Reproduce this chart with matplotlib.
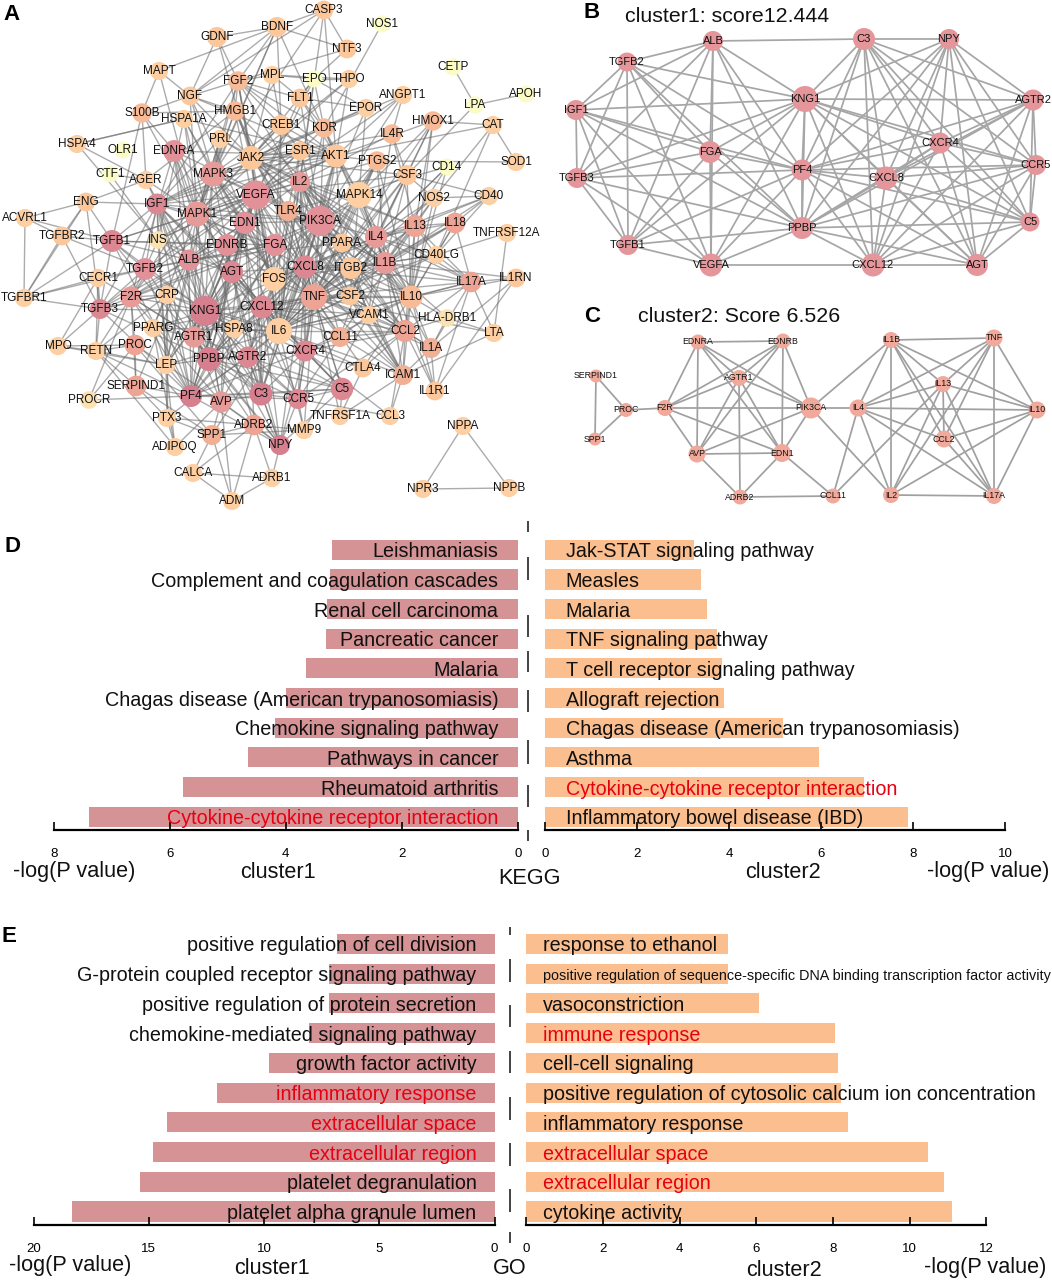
#!/usr/bin/env python3
# -*- coding: utf-8 -*-
from itertools import combinations

import matplotlib
matplotlib.use('Agg')
import matplotlib.pyplot as plt
from matplotlib.collections import LineCollection
from matplotlib.colors import LinearSegmentedColormap

plt.rcParams['font.family'] = ['Liberation Sans', 'DejaVu Sans']

W, H = 1052, 1280

# panel A: PPI network, node place in picture pixels, score = degree class 0-10
a_names = ['GDNF', 'BDNF', 'CASP3', 'NOS1', 'NTF3', 'MAPT', 'FGF2', 'MPL', 'NGF', 'EPO', 'THPO', 'FLT1',
           'ANGPT1', 'EPOR', 'CETP', 'LPA', 'APOH', 'S100B', 'HSPA1A', 'HMGB1', 'CREB1', 'KDR', 'HMOX1',
           'CAT', 'IL4R', 'PRL', 'HSPA4', 'OLR1', 'EDNRA', 'JAK2', 'ESR1', 'AKT1', 'PTGS2', 'SOD1', 'CD14',
           'CTF1', 'AGER', 'MAPK3', 'IL2', 'CSF3', 'VEGFA', 'ENG', 'IGF1', 'MAPK1', 'NOS2', 'MAPK14', 'CD40',
           'EDN1', 'TLR4', 'PIK3CA', 'ACVRL1', 'IL13', 'IL18', 'TNFRSF12A', 'IL4', 'PPARA', 'TGFBR2', 'TGFB1',
           'INS', 'EDNRB', 'FGA', 'CD40LG', 'ALB', 'AGT', 'FOS', 'TGFB2', 'CECR1', 'TGFBR1', 'F2R', 'CRP',
           'TGFB3', 'KNG1', 'CXCL12', 'PPARG', 'HSPA8', 'AGTR1', 'IL6', 'MPO', 'RETN', 'PROC', 'LEP', 'PPBP',
           'AGTR2', 'SERPIND1', 'PF4', 'AVP', 'C3', 'PROCR', 'PTX3', 'ADRB2', 'SPP1', 'ADIPOQ', 'NPY', 'CALCA',
           'ADRB1', 'ADM', 'CXCL8', 'ITGB2', 'IL1B', 'IL17A', 'IL1RN', 'TNF', 'CSF2', 'IL10', 'VCAM1',
           'HLA-DRB1', 'CCL2', 'LTA', 'CCL11', 'IL1A', 'CXCR4', 'CTLA4', 'ICAM1', 'IL1R1', 'C5', 'CCR5',
           'TNFRSF1A', 'CCL3', 'MMP9', 'NPPA', 'NPR3', 'NPPB']
a_x = [217, 277, 324, 382, 347, 159, 238, 272, 190, 314, 349, 300,
       403, 366, 453, 475, 526, 142, 184, 235, 281, 324, 433,
       493, 392, 220, 77, 123, 174, 251, 300, 336, 377, 516, 447,
       110, 146, 213, 300, 407, 256, 86, 157, 197, 434, 359, 489,
       245, 288, 320, 25, 415, 455, 507, 376, 342, 62, 112,
       158, 227, 275, 436, 189, 232, 274, 145, 98, 24, 131, 167,
       100, 205, 262, 153, 234, 194, 279, 58, 96, 135, 166, 209,
       248, 136, 191, 221, 261, 89, 167, 254, 212, 175, 280, 193,
       272, 232, 305, 351, 385, 471, 516, 314, 350, 411, 369,
       447, 405, 494, 340, 431, 305, 363, 403, 435, 342, 298,
       340, 390, 304, 463, 423, 509]
a_y = [37, 27, 10, 24, 49, 71, 81, 75, 96, 79, 79, 98,
       95, 108, 67, 105, 94, 113, 119, 111, 125, 128, 121,
       125, 134, 139, 144, 150, 151, 158, 151, 156, 161, 162, 167,
       174, 180, 174, 182, 175, 195, 202, 204, 214, 198, 195, 196,
       223, 211, 221, 218, 226, 223, 233, 237, 243, 236, 241,
       240, 245, 245, 255, 260, 272, 279, 269, 278, 298, 297, 295,
       309, 311, 307, 328, 329, 337, 331, 346, 351, 345, 365, 359,
       357, 386, 396, 402, 394, 400, 418, 425, 435, 447, 445, 473,
       478, 501, 267, 268, 263, 282, 278, 297, 296, 297, 315,
       318, 331, 333, 337, 348, 351, 368, 375, 391, 389, 399,
       416, 416, 430, 426, 489, 488]
a_score = [3, 3, 3, 0, 3, 2, 4, 2, 3, 0, 2, 3,
           2, 2, 0, 0, 0, 4, 2, 4, 3, 4, 4,
           2, 4, 2, 2, 0, 8, 3, 3, 3, 4, 2, 0,
           0, 2, 7, 7, 3, 8, 3, 9, 7, 2, 2, 2,
           8, 5, 8, 2, 6, 6, 2, 7, 3, 3, 9,
           1, 8, 8, 2, 8, 9, 2, 8, 2, 2, 7, 2,
           9, 10, 9, 2, 2, 7, 2, 2, 2, 6, 2, 10,
           9, 6, 10, 7, 10, 1, 2, 6, 5, 2, 10, 2,
           2, 2, 9, 3, 7, 6, 3, 6, 3, 4, 2,
           1, 6, 2, 5, 5, 9, 3, 5, 3, 9, 9,
           2, 2, 2, 2, 2, 2]
# the big circles, in pixels; the others follow the score
a_big = {'KNG1': 15, 'PIK3CA': 15, 'VEGFA': 14.5, 'MAPK3': 12.5, 'MAPK1': 12.5, 'AGT': 11, 'PPBP': 12, 'C3': 11.5,
         'PF4': 11, 'CXCL8': 11.5, 'CXCL12': 11.5, 'CXCR4': 10.5, 'CCR5': 10, 'AGTR2': 10.5, 'ALB': 10.5, 'NPY': 10,
         'TNF': 13, 'IL6': 13, 'FOS': 12, 'JAK2': 12, 'MAPK14': 13, 'IL10': 11.5, 'IL4': 11, 'IL13': 11, 'IL1B': 11,
         'EDN1': 11, 'FGA': 11, 'IL2': 10, 'TGFB3': 10, 'TGFB1': 11, 'IGF1': 10.5, 'CCL2': 11, 'CSF3': 10,
         'CREB1': 10, 'AKT1': 11.5, 'ITGB2': 11, 'GDNF': 10, 'BDNF': 10}
a_links = {
    'GDNF': 'BDNF NGF JAK2 FGF2',
    'BDNF': 'CASP3 NTF3 NGF FGF2 AKT1 CREB1 MAPK1 MAPK3 MAPT',
    'CASP3': 'NTF3 AKT1 MAPK3 NGF IL2',
    'NTF3': 'FGF2 EPO',
    'NOS1': 'KDR',
    'MAPT': 'S100B MAPK1 NGF',
    'FGF2': 'NGF MPL FLT1 KDR VEGFA MAPK1 MAPK3 AKT1 IGF1 CREB1 HMGB1 JAK2 FOS PIK3CA',
    'MPL': 'EPO THPO JAK2 CREB1 FLT1',
    'NGF': 'MAPK1 MAPK3 AKT1 S100B JAK2 HMGB1 FOS',
    'EPO': 'THPO EPOR JAK2 VEGFA KDR FLT1 IL6',
    'THPO': 'MAPK1 JAK2 AKT1',
    'FLT1': 'VEGFA KDR PIK3CA AKT1 EPOR',
    'ANGPT1': 'KDR PIK3CA AKT1 VEGFA',
    'EPOR': 'KDR JAK2 PIK3CA MAPK14',
    'CETP': 'LPA',
    'LPA': 'APOH CSF3',
    'S100B': 'HMGB1 AGER MAPK1 EDNRA TGFB1',
    'HSPA1A': 'HSPA4 MAPK1 MAPK3 AKT1 INS FOS HSPA8',
    'HMGB1': 'TLR4 MAPK1 MAPK3 IL6 TNF AGER IL1B CXCL8',
    'CREB1': 'MAPK1 MAPK3 AKT1 FOS JAK2 IL6 ESR1',
    'KDR': 'VEGFA PIK3CA AKT1 MAPK14 IL6 JAK2 IGF1',
    'HMOX1': 'CAT MAPK14 CSF3 IL4 IL13 IL10 TNF AKT1',
    'CAT': 'SOD1 NOS2 AKT1 CD40LG',
    'IL4R': 'IL4 IL13 JAK2 IL2 CSF3 ANGPT1',
    'PRL': 'JAK2 MAPK1 MAPK3 IL2 IGF1 LEP',
    'HSPA4': 'AGER INS HSPA1A',
    'EDNRA': 'EDN1 EDNRB AGTR1 F2R AVP PIK3CA MAPK1 AKT1 ADRB2',
    'JAK2': 'MAPK1 MAPK3 VEGFA IL2 IL6 IL4 PIK3CA CSF2 CSF3 AKT1 IL13 IL10',
    'ESR1': 'MAPK1 MAPK3 AKT1 VEGFA IGF1 IL6 FOS PIK3CA',
    'AKT1': 'MAPK1 MAPK3 VEGFA PIK3CA IGF1 INS TNF IL6 IL4 MAPK14 IL1B CXCL8 PPARA',
    'PTGS2': 'SOD1 MAPK14 IL1B IL6 TNF VEGFA CXCL8 PPARA PIK3CA AKT1 IL10',
    'CD14': 'TLR4 IL10 IL1B TNF IL6',
    'CTF1': 'INS AGER',
    'AGER': 'ENG ALB MAPK1 IGF1',
    'MAPK3': 'MAPK1 VEGFA IGF1 FOS TNF IL6 EDN1 AGT PIK3CA CXCL8 KNG1 AGTR1 F2R',
    'IL2': 'IL4 IL10 IL13 IL6 TNF CCL2 VEGFA CSF2 CXCL8 IL1B PIK3CA IL17A CXCR4 ICAM1 CCL11 EDN1',
    'CSF3': 'IL6 IL4 CSF2 IL1B NOS2 CD40 PIK3CA TNF IL10 VEGFA',
    'VEGFA': 'EDN1 IGF1 MAPK1 PIK3CA FGA ALB AGT KNG1 PPBP PF4 CXCL8 TGFB1 TGFB2 TGFB3 CXCL12 IL6 TNF FOS C3 AGTR1 IL1B LEP CCL2 INS',
    'ENG': 'TGFBR2 TGFB1 IGF1 TGFBR1 TGFB3 ACVRL1',
    'IGF1': 'MAPK1 INS ALB TGFB1 TGFB2 TGFB3 FGA KNG1 PPBP PF4 AGT PIK3CA IL6 AGTR1 LEP CXCL12',
    'MAPK1': 'EDN1 PIK3CA TGFB1 INS ALB FOS AGT TNF IL6 KNG1 CXCL8 CXCL12 F2R AGTR1 PPARG',
    'NOS2': 'CD40 IL1B IL13 IL4 TNF IL10',
    'MAPK14': 'PIK3CA IL4 IL1B TNF IL6 IL10 CSF2 CXCL8',
    'CD40': 'CD40LG IL13 IL18 IL4 IL1B',
    'EDN1': 'EDNRB AGTR1 F2R AVP AGT KNG1 PIK3CA ALB PF4 PPBP ADRB2 CCL11 FOS C3 FGA',
    'TLR4': 'PIK3CA TNF IL6 IL1B CXCL8 IL10 ITGB2 ICAM1',
    'PIK3CA': 'IL4 F2R IL1B IL2 CXCL8 CXCL12 CXCR4 AGTR1 AVP KNG1 FGA TNF IL6 ITGB2 CSF2 CCL2 C3 PPBP',
    'ACVRL1': 'TGFB1 TGFBR1 TGFBR2',
    'IL13': 'IL4 IL18 IL10 IL1B CCL2 TNF IL17A CD40LG CCL11 IL6',
    'IL18': 'IL1B IL4 IL10 TNF CD40LG IL17A IL6',
    'TNFRSF12A': 'CD40LG LTA',
    'IL4': 'IL10 IL1B CCL2 IL6 TNF CCL11 IL17A ITGB2 CD40LG VCAM1 CSF2 CXCL8',
    'PPARA': 'IL6 TNF PIK3CA FOS ALB',
    'TGFBR2': 'TGFB1 TGFBR1 TGFB2 TGFB3',
    'TGFB1': 'TGFB2 TGFB3 TGFBR1 ALB FGA KNG1 PPBP PF4 EDNRB',
    'INS': 'ALB KNG1 LEP AGT TGFB2',
    'EDNRB': 'AGTR1 F2R AVP KNG1 ALB AGT',
    'FGA': 'ALB KNG1 PPBP PF4 TGFB2 TGFB3 AGT C3',
    'CD40LG': 'IL1B IL10 IL17A IL6 TNF ITGB2',
    'ALB': 'TGFB2 TGFB3 KNG1 PPBP PF4 C3 AGT CRP LEP SERPIND1',
    'AGT': 'KNG1 AGTR1 AGTR2 C3 C5 CXCL8 CXCL12 CXCR4 CCR5 NPY PPBP PF4 IL6 TNF LEP',
    'FOS': 'IL6 TNF IL1B IL2 IL4 CXCL8 AGTR2',
    'TGFB2': 'TGFB3 TGFBR1 KNG1 PPBP PF4 CECR1 F2R',
    'CECR1': 'TGFB3 TGFBR1 F2R RETN MPO',
    'TGFBR1': 'TGFB3',
    'F2R': 'AGTR1 AVP PROC KNG1 SERPIND1 PROCR PF4 CRP RETN',
    'CRP': 'IL6 KNG1 LEP RETN PTX3 TGFB3 PF4 C3',
    'TGFB3': 'KNG1 PPBP PF4 RETN MPO CRP',
    'KNG1': 'PPBP PF4 C3 C5 AGTR1 AGTR2 CXCL8 CXCL12 CXCR4 CCR5 NPY HSPA8 AVP IL6 TNF LEP',
    'CXCL12': 'CXCL8 CXCR4 CCR5 PPBP PF4 C3 C5 AGTR2 NPY IL6 TNF CSF2 CCL2 CCL11 AGTR1 VCAM1',
    'PPARG': 'LEP IL6 TNF ADIPOQ KNG1 CRP AGTR1',
    'HSPA8': 'IL6 TNF PPBP',
    'AGTR1': 'AVP F2R PF4 C3 ADRB2 AGTR2 NPY PPBP CXCL8',
    'IL6': 'TNF IL1B IL10 CXCL8 CCL2 ICAM1 CSF2 LEP IL17A VCAM1 PTX3 SPP1 C3 AGTR2 CXCR4 MMP9 CTLA4',
    'MPO': 'RETN LEP PROC',
    'RETN': 'LEP PF4 SERPIND1 ADIPOQ PROC',
    'PROC': 'PROCR SERPIND1 LEP SPP1',
    'LEP': 'ADIPOQ PTX3 PF4 PPBP AVP',
    'PPBP': 'PF4 C3 C5 AGTR2 CXCL8 CXCR4 CCR5 NPY',
    'AGTR2': 'PF4 C3 C5 CXCL8 CXCR4 CCR5 NPY',
    'SERPIND1': 'SPP1 PF4 PTX3',
    'PF4': 'C3 C5 CXCL8 CXCR4 CCR5 NPY PROCR',
    'AVP': 'ADRB2 ADIPOQ SPP1 NPY C3 ADM',
    'C3': 'C5 CXCL8 CXCR4 CCR5 NPY',
    'PTX3': 'ADRB2 SPP1 ADIPOQ',
    'ADRB2': 'NPY CALCA ADM MMP9 ADRB1 SPP1',
    'SPP1': 'CALCA ADM MMP9',
    'NPY': 'C5 CXCL8 CXCR4 CCR5 ADRB1',
    'CALCA': 'ADRB1 ADM',
    'ADRB1': 'ADM',
    'CXCL8': 'C5 CXCR4 CCR5 TNF IL1B IL10 CCL2 CSF2 ITGB2 ICAM1 IL17A IL13',
    'ITGB2': 'ICAM1 TNF IL1B VCAM1 IL10 CCL2',
    'IL1B': 'TNF IL10 IL17A IL1RN IL1R1 IL1A CCL2 ICAM1 VCAM1 CSF2 HLA-DRB1',
    'IL17A': 'TNF IL10 CCL2 LTA IL1RN IL1A IL1R1',
    'IL1RN': 'IL10 IL1A IL1R1',
    'TNF': 'IL10 CCL2 ICAM1 VCAM1 CSF2 CTLA4 IL1A LTA CXCR4 CCR5 TNFRSF1A MMP9 C5 CCL11',
    'CSF2': 'IL10 CCL2 VCAM1 ICAM1 IL1A',
    'IL10': 'CCL2 ICAM1 HLA-DRB1 IL1A CTLA4 CXCR4 VCAM1 IL1R1',
    'VCAM1': 'ICAM1 CCL2 CCL11 MMP9',
    'HLA-DRB1': 'IL1A LTA CCL2',
    'CCL2': 'IL1A ICAM1 CCL11 CCR5 CXCR4 IL1R1 CCL3 CTLA4',
    'LTA': 'ICAM1',
    'CCL11': 'CXCR4 CCR5 ICAM1',
    'IL1A': 'ICAM1 IL1R1',
    'CXCR4': 'C5 CCR5 CCL3 CTLA4',
    'CTLA4': 'TNFRSF1A',
    'ICAM1': 'TNFRSF1A CCL3',
    'C5': 'CCR5 TNFRSF1A',
    'CCR5': 'CCL3 MMP9',
    'NPPA': 'NPR3 NPPB',
    'NPR3': 'NPPB',
}

# panel B
b_names = ['ALB', 'C3', 'NPY', 'TGFB2', 'IGF1', 'KNG1', 'AGTR2', 'FGA', 'CXCR4', 'CCR5', 'PF4', 'CXCL8',
           'TGFB3', 'C5', 'PPBP', 'TGFB1', 'VEGFA', 'CXCL12', 'AGT']
b_x = [713, 864, 949, 627, 576, 805, 1033, 710, 940, 1036, 802, 886, 577, 1030, 802, 628, 711, 873, 977]
b_y = [41, 39, 39, 62, 110, 99, 100, 152, 143, 165, 170, 178, 178, 222, 228, 245, 265, 265, 265]
b_radius = [10, 11, 10, 9.5, 10, 13, 10.5, 11, 10.5, 10, 10.5, 11.5, 10, 9.5, 11, 10, 11.5, 11.5, 11]
b_left = ['ALB', 'TGFB2', 'IGF1', 'TGFB3', 'TGFB1', 'VEGFA', 'FGA', 'KNG1', 'PF4', 'PPBP']
b_right = ['C3', 'NPY', 'AGTR2', 'CXCR4', 'CCR5', 'C5', 'CXCL8', 'CXCL12', 'AGT', 'KNG1', 'PF4', 'PPBP']
b_extra = [('ALB', 'C3'), ('VEGFA', 'CXCL12')]

# panel C
c_names = ['SERPIND1', 'PROC', 'SPP1', 'F2R', 'EDNRA', 'EDNRB', 'AGTR1', 'PIK3CA', 'AVP', 'EDN1', 'ADRB2',
           'CCL11', 'IL4', 'IL1B', 'TNF', 'IL13', 'IL10', 'CCL2', 'IL2', 'IL17A']
c_x = [596, 626, 595, 665, 698, 783, 739, 811, 697, 782, 740, 833, 858, 891, 994, 943, 1037, 944, 891, 994]
c_y = [376, 410, 439, 408, 342, 341, 378, 408, 454, 453, 497, 496, 408, 340, 338, 384, 410, 439, 495, 496]
c_radius = [6.5, 7, 6.5, 8, 7.5, 7.5, 8, 10.5, 8.5, 9, 7.5, 7.5, 8.5, 8, 8.5, 8, 8.5, 8.5, 8, 8]
c_links = {
    'SERPIND1': 'PROC SPP1',
    'SPP1': 'PROC',
    'PROC': 'F2R',
    'F2R': 'EDNRA EDNRB AGTR1 PIK3CA AVP EDN1',
    'EDNRA': 'EDNRB AGTR1 PIK3CA AVP EDN1',
    'EDNRB': 'AGTR1 PIK3CA AVP EDN1',
    'AGTR1': 'PIK3CA AVP EDN1 ADRB2',
    'PIK3CA': 'AVP EDN1 IL4 IL1B IL2',
    'AVP': 'EDN1 ADRB2',
    'EDN1': 'ADRB2 CCL11',
    'ADRB2': 'CCL11',
    'IL4': 'IL1B TNF IL13 IL10 CCL2 IL2 IL17A CCL11',
    'CCL11': 'IL13',
    'IL1B': 'TNF IL13 IL10 CCL2 IL2 IL17A',
    'TNF': 'IL13 IL10 CCL2 IL2 IL17A',
    'IL13': 'IL10 CCL2 IL2 IL17A',
    'IL10': 'CCL2 IL2 IL17A',
    'CCL2': 'IL17A',
    'IL2': 'IL17A',
}

# panel D, KEGG, top row first
d1_terms = ['Leishmaniasis', 'Complement and coagulation cascades', 'Renal cell carcinoma', 'Pancreatic cancer',
            'Malaria', 'Chagas disease (American trypanosomiasis)', 'Chemokine signaling pathway',
            'Pathways in cancer', 'Rheumatoid arthritis', 'Cytokine-cytokine receptor interaction']
d1_vals = [3.2, 3.24, 3.29, 3.3, 3.65, 4.0, 4.18, 4.66, 5.77, 7.4]
d1_red = ['Cytokine-cytokine receptor interaction']
d2_terms = ['Jak-STAT signaling pathway', 'Measles', 'Malaria', 'TNF signaling pathway',
            'T cell receptor signaling pathway', 'Allograft rejection', 'Chagas disease (American trypanosomiasis)',
            'Asthma', 'Cytokine-cytokine receptor interaction', 'Inflammatory bowel disease (IBD)']
d2_vals = [3.24, 3.4, 3.52, 3.74, 3.85, 3.9, 5.17, 5.96, 6.93, 7.9]
d2_red = ['Cytokine-cytokine receptor interaction']

# panel E, GO, top row first
e1_terms = ['positive regulation of cell division', 'G-protein coupled receptor signaling pathway',
            'positive regulation of protein secretion', 'chemokine-mediated signaling pathway',
            'growth factor activity', 'inflammatory response', 'extracellular space', 'extracellular region',
            'platelet degranulation', 'platelet alpha granule lumen']
e1_vals = [6.83, 7.17, 7.2, 8.04, 9.78, 12.04, 14.2, 14.8, 15.4, 18.35]
e1_red = ['inflammatory response', 'extracellular space', 'extracellular region']
e2_terms = ['response to ethanol', 'positive regulation of sequence-specific DNA binding transcription factor activity',
            'vasoconstriction', 'immune response', 'cell-cell signaling',
            'positive regulation of cytosolic calcium ion concentration', 'inflammatory response',
            'extracellular space', 'extracellular region', 'cytokine activity']
e2_vals = [5.27, 5.27, 6.08, 8.04, 8.14, 8.22, 8.4, 10.47, 10.88, 11.1]
e2_red = ['immune response', 'extracellular space', 'extracellular region']

node_cmap = LinearSegmentedColormap.from_list(
    'nodes', [(0.0, '#FBFBC6'), (0.15, '#FDD3A6'), (0.3, '#FCC79A'), (0.55, '#EFA992'),
              (0.75, '#E5969A'), (1.0, '#D67F8E')])


def pairs(links):
    out = []
    for k, v in links.items():
        for other in v.split():
            out.append((k, other))
    return out


def draw_net(ax, names, xs, ys, radius, colors, edges, fontsize, edge_color, lw):
    pos = {n: (x, y) for n, x, y in zip(names, xs, ys)}
    segs = [(pos[a], pos[b]) for a, b in edges]
    ax.add_collection(LineCollection(segs, colors=edge_color, linewidths=lw, zorder=1))
    # radius in pixels -> scatter area in points^2
    sizes = [(2 * r * 0.72) ** 2 for r in radius]
    ax.scatter(xs, ys, s=sizes, color=colors, linewidths=0, zorder=2)
    for n, x, y in zip(names, xs, ys):
        ax.text(x, y, n, fontsize=fontsize, ha='center', va='center', color='#111111', zorder=3)


def bar_panel(box, terms, vals, red, xmax, ticks, color, left, label_x, fontsize=14.2, small=None):
    x0, y0, x1, y1 = box
    ax = fig.add_axes([x0 / W, 1 - y1 / H, (x1 - x0) / W, (y1 - y0) / H])
    ax.patch.set_alpha(0)
    rows = list(range(len(terms)))
    ax.barh(rows, vals, height=0.68, color=color)
    ax.set_ylim(bottom=9.45, top=-0.5)
    if left:
        ax.set_xlim(xmax, 0)
    else:
        ax.set_xlim(0, xmax)
    ax.set_xticks(ticks)
    ax.set_yticks([])
    for s in ['top', 'left', 'right']:
        ax.spines[s].set_visible(False)
    ax.spines['bottom'].set_linewidth(1.6)
    ax.tick_params(axis='x', direction='in', length=6, width=1.2, pad=13, labelsize=9.5)
    for r, t in zip(rows, terms):
        fs = small if (small and len(t) > 60) else fontsize
        ax.text(label_x, r + 0.07, t, fontsize=fs, color='#E60012' if t in red else '#111111',
                ha='right' if left else 'left', va='center', clip_on=False)
    return ax


fig = plt.figure(figsize=(W / 100, H / 100), dpi=100)

# one axes over the whole figure in pixel units for networks and loose text
bg = fig.add_axes([0, 0, 1, 1])
bg.set_xlim(0, W)
bg.set_ylim(H, 0)
bg.axis('off')

a_radius = [a_big.get(n, 8.5 + 0.3 * s) for n, s in zip(a_names, a_score)]
a_colors = [node_cmap(min(s, 10) / 10) for s in a_score]
draw_net(bg, a_names, a_x, a_y, a_radius, a_colors, pairs(a_links), 8.5, (0.42, 0.42, 0.42, 0.56), 1.0)

b_edges = list(combinations(b_left, 2)) + b_extra
for e in combinations(b_right, 2):
    if e not in b_edges and (e[1], e[0]) not in b_edges:
        b_edges.append(e)
draw_net(bg, b_names, b_x, b_y, b_radius, '#E4969B', b_edges, 8, '#A6A6A6', 1.25)

draw_net(bg, c_names, c_x, c_y, c_radius, '#F0A99A', pairs(c_links), 6.3, '#A0A0A0', 1.25)

for letter, x, y in [('A', 12, 14), ('B', 592, 13), ('C', 592, 316), ('D', 12, 547), ('E', 9, 937)]:
    bg.text(x, y, letter, fontsize=16, fontweight='bold', ha='center', va='center', color='black')
bg.text(625, 16, 'cluster1: score12.444', fontsize=15.4, ha='left', va='center', color='#111111')
bg.text(638, 316, 'cluster2: Score 6.526', fontsize=15.4, ha='left', va='center', color='#111111')

# bar panels
pink = '#D69395'
orange = '#FBBE8E'
bar_panel((53.7, 535, 518, 830), d1_terms, d1_vals, d1_red, 8, [0, 2, 4, 6, 8], pink, True, 0.34)
bar_panel((545, 535, 1005, 830), d2_terms, d2_vals, d2_red, 10, [0, 2, 4, 6, 8, 10], orange, False, 0.45)
bar_panel((33.6, 929, 494.6, 1225), e1_terms, e1_vals, e1_red, 20, [0, 5, 10, 15, 20], pink, True, 0.78)
bar_panel((526, 929, 986.5, 1225), e2_terms, e2_vals, e2_red, 12, [0, 2, 4, 6, 8, 10, 12], orange, False, 0.45,
          small=10.4)

for txt, x, y in [('-log(P value)', 74, 871), ('cluster1', 278, 872), ('KEGG', 530, 879), ('cluster2', 783, 872),
                  ('-log(P value)', 988, 871), ('-log(P value)', 70, 1265), ('cluster1', 272, 1269),
                  ('GO', 510, 1269), ('cluster2', 784, 1271), ('-log(P value)', 985, 1268)]:
    bg.text(x, y, txt, fontsize=15.6, ha='center', va='center', color='#111111')

# broken divider between left and right bars
d_gaps = [(521, 532), (557, 580), (615, 637), (651, 672), (690, 712), (740, 764), (785, 807), (830, 841)]
e_gaps = [(927, 935), (959, 982), (1005, 1027), (1051, 1073), (1097, 1120), (1143, 1166), (1189, 1212), (1232, 1243)]
bg.add_collection(LineCollection([((528, a), (528, b)) for a, b in d_gaps], colors='#222222', linewidths=1.2))
bg.add_collection(LineCollection([((509.5, a), (509.5, b)) for a, b in e_gaps], colors='#222222', linewidths=1.2))

fig.savefig('out.png', dpi=100)
